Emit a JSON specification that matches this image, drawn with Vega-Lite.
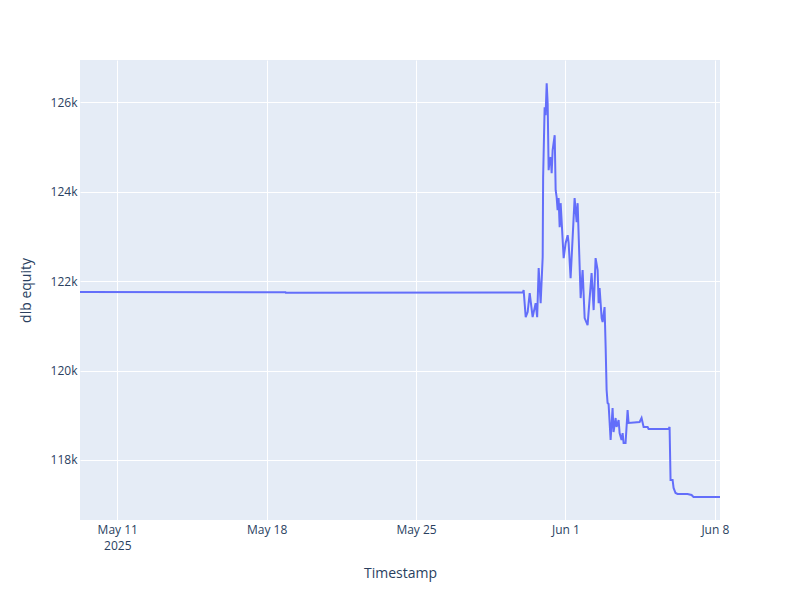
{
  "$schema": "https://vega.github.io/schema/vega-lite/v6.json",
  "width": 640,
  "height": 460,
  "autosize": {"type": "none"},
  "padding": {"left": 80, "top": 60, "right": 80, "bottom": 80},
  "background": "white",
  "config": {
    "font": "Open Sans",
    "view": {"fill": "#E5ECF6", "stroke": null},
    "axis": {
      "domain": false,
      "ticks": false,
      "grid": true,
      "gridColor": "white",
      "gridWidth": 1,
      "labelFont": "Open Sans",
      "labelFontSize": 12,
      "labelColor": "#2a3f5f",
      "titleFont": "Open Sans",
      "titleFontSize": 14,
      "titleFontWeight": "normal",
      "titleColor": "#2a3f5f"
    }
  },
  "data": {
    "values": [
      {"Timestamp": "2025-05-09T06:06:00", "equity": 121755},
      {"Timestamp": "2025-05-18T21:12:00", "equity": 121750},
      {"Timestamp": "2025-05-18T21:30:00", "equity": 121740},
      {"Timestamp": "2025-05-30T00:00:00", "equity": 121745},
      {"Timestamp": "2025-05-30T01:00:00", "equity": 121800},
      {"Timestamp": "2025-05-30T03:18:00", "equity": 121196},
      {"Timestamp": "2025-05-30T05:30:00", "equity": 121308},
      {"Timestamp": "2025-05-30T07:48:00", "equity": 121732},
      {"Timestamp": "2025-05-30T11:06:00", "equity": 121196},
      {"Timestamp": "2025-05-30T14:30:00", "equity": 121509},
      {"Timestamp": "2025-05-30T16:12:00", "equity": 121196},
      {"Timestamp": "2025-05-30T17:54:00", "equity": 122291},
      {"Timestamp": "2025-05-30T20:06:00", "equity": 121509},
      {"Timestamp": "2025-05-30T22:24:00", "equity": 122537},
      {"Timestamp": "2025-05-30T22:54:00", "equity": 124325},
      {"Timestamp": "2025-05-31T00:36:00", "equity": 125890},
      {"Timestamp": "2025-05-31T01:42:00", "equity": 125711},
      {"Timestamp": "2025-05-31T02:54:00", "equity": 126426},
      {"Timestamp": "2025-05-31T04:00:00", "equity": 125979},
      {"Timestamp": "2025-05-31T05:06:00", "equity": 124482},
      {"Timestamp": "2025-05-31T06:12:00", "equity": 124705},
      {"Timestamp": "2025-05-31T07:24:00", "equity": 124772},
      {"Timestamp": "2025-05-31T08:30:00", "equity": 124415},
      {"Timestamp": "2025-05-31T09:36:00", "equity": 124929},
      {"Timestamp": "2025-05-31T11:54:00", "equity": 125264},
      {"Timestamp": "2025-05-31T13:00:00", "equity": 124035},
      {"Timestamp": "2025-05-31T14:06:00", "equity": 123878},
      {"Timestamp": "2025-05-31T15:12:00", "equity": 123588},
      {"Timestamp": "2025-05-31T16:18:00", "equity": 123856},
      {"Timestamp": "2025-05-31T17:30:00", "equity": 123208},
      {"Timestamp": "2025-05-31T18:36:00", "equity": 123744},
      {"Timestamp": "2025-05-31T22:00:00", "equity": 122515},
      {"Timestamp": "2025-06-01T00:12:00", "equity": 122850},
      {"Timestamp": "2025-06-01T02:30:00", "equity": 123029},
      {"Timestamp": "2025-06-01T03:36:00", "equity": 122850},
      {"Timestamp": "2025-06-01T05:48:00", "equity": 122068},
      {"Timestamp": "2025-06-01T10:18:00", "equity": 123856},
      {"Timestamp": "2025-06-01T12:36:00", "equity": 123319},
      {"Timestamp": "2025-06-01T13:42:00", "equity": 123744},
      {"Timestamp": "2025-06-01T17:06:00", "equity": 121621},
      {"Timestamp": "2025-06-01T19:18:00", "equity": 122247},
      {"Timestamp": "2025-06-01T21:36:00", "equity": 121174},
      {"Timestamp": "2025-06-02T00:54:00", "equity": 121017},
      {"Timestamp": "2025-06-02T05:24:00", "equity": 122179},
      {"Timestamp": "2025-06-02T07:42:00", "equity": 121353},
      {"Timestamp": "2025-06-02T09:54:00", "equity": 122515},
      {"Timestamp": "2025-06-02T12:12:00", "equity": 122247},
      {"Timestamp": "2025-06-02T13:18:00", "equity": 121509},
      {"Timestamp": "2025-06-02T14:24:00", "equity": 121844},
      {"Timestamp": "2025-06-02T16:42:00", "equity": 121174},
      {"Timestamp": "2025-06-02T17:48:00", "equity": 121084},
      {"Timestamp": "2025-06-02T20:00:00", "equity": 121420},
      {"Timestamp": "2025-06-02T21:12:00", "equity": 120526},
      {"Timestamp": "2025-06-02T22:18:00", "equity": 119565},
      {"Timestamp": "2025-06-02T23:24:00", "equity": 119274},
      {"Timestamp": "2025-06-03T00:30:00", "equity": 119252},
      {"Timestamp": "2025-06-03T02:48:00", "equity": 118447},
      {"Timestamp": "2025-06-03T05:00:00", "equity": 119162},
      {"Timestamp": "2025-06-03T06:06:00", "equity": 118626},
      {"Timestamp": "2025-06-03T08:24:00", "equity": 118939},
      {"Timestamp": "2025-06-03T09:30:00", "equity": 118738},
      {"Timestamp": "2025-06-03T11:48:00", "equity": 118894},
      {"Timestamp": "2025-06-03T12:54:00", "equity": 118603},
      {"Timestamp": "2025-06-03T15:06:00", "equity": 118447},
      {"Timestamp": "2025-06-03T16:18:00", "equity": 118603},
      {"Timestamp": "2025-06-03T17:24:00", "equity": 118380},
      {"Timestamp": "2025-06-03T19:36:00", "equity": 118380},
      {"Timestamp": "2025-06-03T21:54:00", "equity": 119118},
      {"Timestamp": "2025-06-03T23:00:00", "equity": 118827},
      {"Timestamp": "2025-06-04T11:24:00", "equity": 118849},
      {"Timestamp": "2025-06-04T13:36:00", "equity": 118939},
      {"Timestamp": "2025-06-04T15:54:00", "equity": 118738},
      {"Timestamp": "2025-06-04T20:24:00", "equity": 118738},
      {"Timestamp": "2025-06-04T21:30:00", "equity": 118693},
      {"Timestamp": "2025-06-05T20:00:00", "equity": 118693},
      {"Timestamp": "2025-06-05T21:06:00", "equity": 118738},
      {"Timestamp": "2025-06-05T22:12:00", "equity": 117553},
      {"Timestamp": "2025-06-06T00:30:00", "equity": 117553},
      {"Timestamp": "2025-06-06T01:36:00", "equity": 117374},
      {"Timestamp": "2025-06-06T03:48:00", "equity": 117262},
      {"Timestamp": "2025-06-06T06:06:00", "equity": 117240},
      {"Timestamp": "2025-06-06T17:18:00", "equity": 117240},
      {"Timestamp": "2025-06-06T21:48:00", "equity": 117218},
      {"Timestamp": "2025-06-07T00:00:00", "equity": 117173},
      {"Timestamp": "2025-06-08T05:48:00", "equity": 117173}
    ]
  },
  "mark": {"type": "line", "color": "#636efa", "strokeWidth": 2, "clip": true},
  "encoding": {
    "x": {
      "field": "Timestamp",
      "type": "temporal",
      "title": "Timestamp",
      "scale": {
        "domain": [
          {"year": 2025, "month": 5, "date": 9, "hours": 6, "minutes": 6},
          {"year": 2025, "month": 6, "date": 8, "hours": 5, "minutes": 48}
        ],
        "nice": false
      },
      "axis": {
        "values": [
          {"year": 2025, "month": 5, "date": 11},
          {"year": 2025, "month": 5, "date": 18},
          {"year": 2025, "month": 5, "date": 25},
          {"year": 2025, "month": 6, "date": 1},
          {"year": 2025, "month": 6, "date": 8}
        ],
        "labelExpr": "datum.index == 0 ? [timeFormat(datum.value, '%b %-d'), '2025'] : timeFormat(datum.value, '%b %-d')",
        "labelPadding": 4,
        "labelLineHeight": 16,
        "labelFlush": false,
        "labelOverlap": false,
        "titlePadding": 15
      }
    },
    "y": {
      "field": "equity",
      "type": "quantitative",
      "title": "dlb equity",
      "scale": {"domain": [116658, 126946], "nice": false, "zero": false},
      "axis": {
        "values": [118000, 120000, 122000, 124000, 126000],
        "labelExpr": "format(datum.value / 1000, 'd') + 'k'",
        "labelPadding": 3,
        "titlePadding": 17
      }
    }
  }
}
